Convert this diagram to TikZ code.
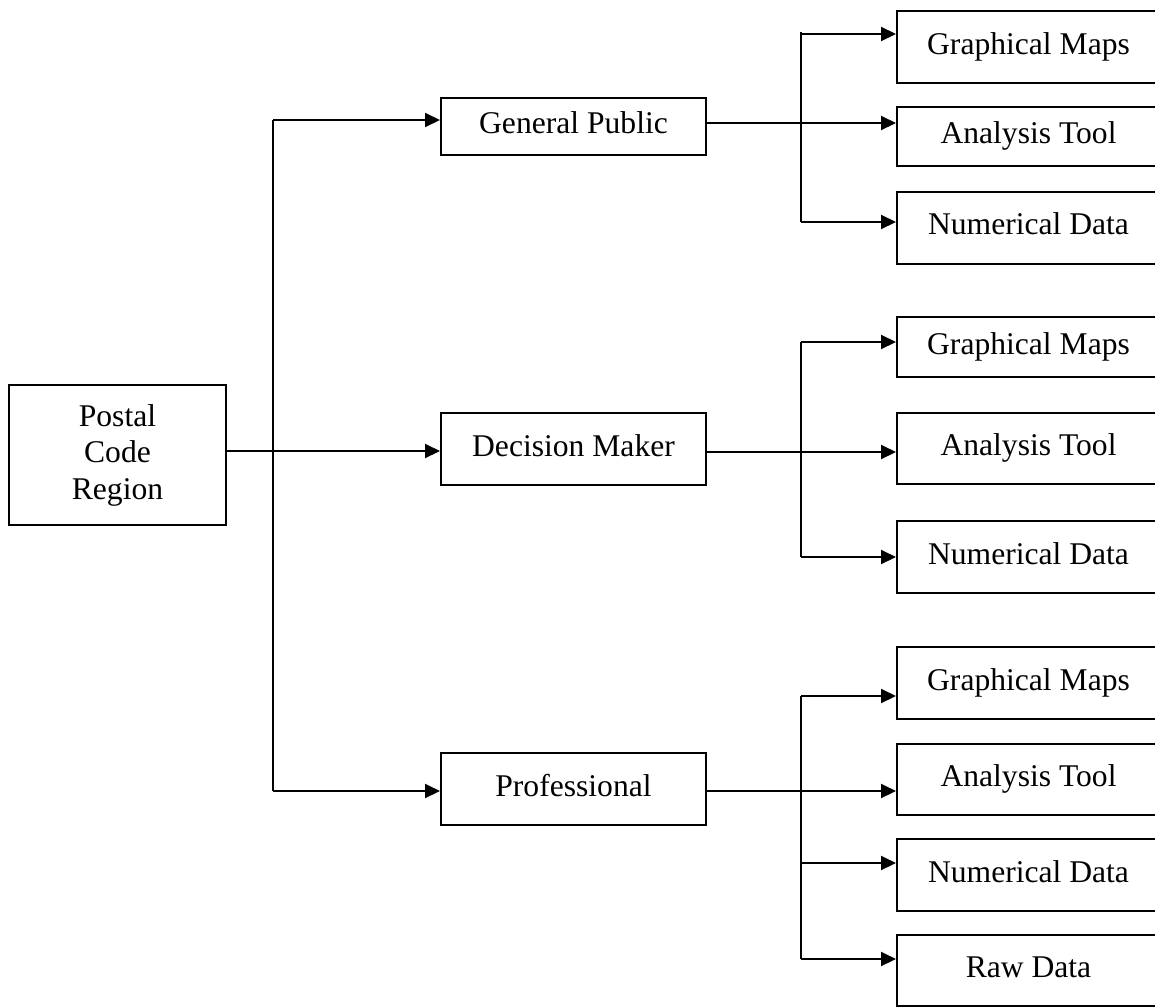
\documentclass[tikz,border=0pt]{standalone}
\usepackage{fontspec}
\setmainfont{Liberation Serif}
\usetikzlibrary{arrows.meta}
\begin{document}
\begin{tikzpicture}[x=1pt,y=-1pt,
  box/.style={draw,line width=2pt,rectangle,inner sep=0pt,align=center,
    font=\fontsize{31.6}{36.5}\selectfont},
  one/.style={text height=21.6pt,text depth=6.9pt},
  leaf/.style={box,one,minimum width=263pt,minimum height=72pt},
  mid/.style={box,one,minimum width=265pt,minimum height=72pt},
  conn/.style={line width=2pt},
  arr/.style={conn,-{Triangle[length=15pt,width=14pt]}}]
\useasboundingbox (0,0) rectangle (1155,1007);
\clip (0,0) rectangle (1155,1007);
% root
\node[box,minimum width=217pt,minimum height=140pt] (pc) at (117.5,455) {Postal\\Code\\Region};
% middle level
\node[mid,minimum height=57pt] (gp) at (573.5,126.5) {General Public};
\node[mid] (dm) at (573.5,449) {Decision Maker};
\node[mid] (pr) at (573.5,789) {Professional};
% leaves group 1
\node[leaf] (gm1) at (1028.5,47) {Graphical Maps};
\node[leaf,minimum height=59pt] (at1) at (1028.5,136.5) {Analysis Tool};
\node[leaf] (nd1) at (1028.5,227.5) {Numerical Data};
% leaves group 2
\node[leaf,minimum height=60pt] (gm2) at (1028.5,347) {Graphical Maps};
\node[leaf,minimum height=71pt] (at2) at (1028.5,448.5) {Analysis Tool};
\node[leaf] (nd2) at (1028.5,557) {Numerical Data};
% leaves group 3
\node[leaf] (gm3) at (1028.5,683) {Graphical Maps};
\node[leaf,minimum height=71pt] (at3) at (1028.5,779.5) {Analysis Tool};
\node[leaf] (nd3) at (1028.5,875) {Numerical Data};
\node[leaf,minimum height=71pt] (rd) at (1028.5,970.5) {Raw Data};
% main trunk
\coordinate (ttop) at (273,120);
\coordinate (tmid) at (273,451);
\coordinate (tbot) at (273,791);
\draw[conn] (ttop) -- (tbot);
\draw[conn] (pc.east |- tmid) -- (tmid);
\draw[arr] (ttop) -- (gp.west |- ttop);
\draw[arr] (tmid) -- (dm.west |- tmid);
\draw[arr] (tbot) -- (pr.west |- tbot);
% group 1
\coordinate (a1) at (801,32);
\coordinate (b1) at (801,34);
\coordinate (c1) at (801,123);
\coordinate (d1) at (801,222);
\draw[conn] (a1) -- (d1);
\draw[arr] (b1) -- (gm1.west |- b1);
\draw[arr] (gp.east |- c1) -- (at1.west |- c1);
\draw[arr] (d1) -- (nd1.west |- d1);
% group 2
\coordinate (b2) at (801,342);
\coordinate (c2) at (801,452);
\coordinate (d2) at (801,557);
\draw[conn] (b2) -- (d2);
\draw[arr] (b2) -- (gm2.west |- b2);
\draw[arr] (dm.east |- c2) -- (at2.west |- c2);
\draw[arr] (d2) -- (nd2.west |- d2);
% group 3
\coordinate (b3) at (801,696);
\coordinate (c3) at (801,791);
\coordinate (d3) at (801,863);
\coordinate (e3) at (801,959);
\draw[conn] (b3) -- (e3);
\draw[arr] (b3) -- (gm3.west |- b3);
\draw[arr] (pr.east |- c3) -- (at3.west |- c3);
\draw[arr] (d3) -- (nd3.west |- d3);
\draw[arr] (e3) -- (rd.west |- e3);
\end{tikzpicture}
\end{document}
